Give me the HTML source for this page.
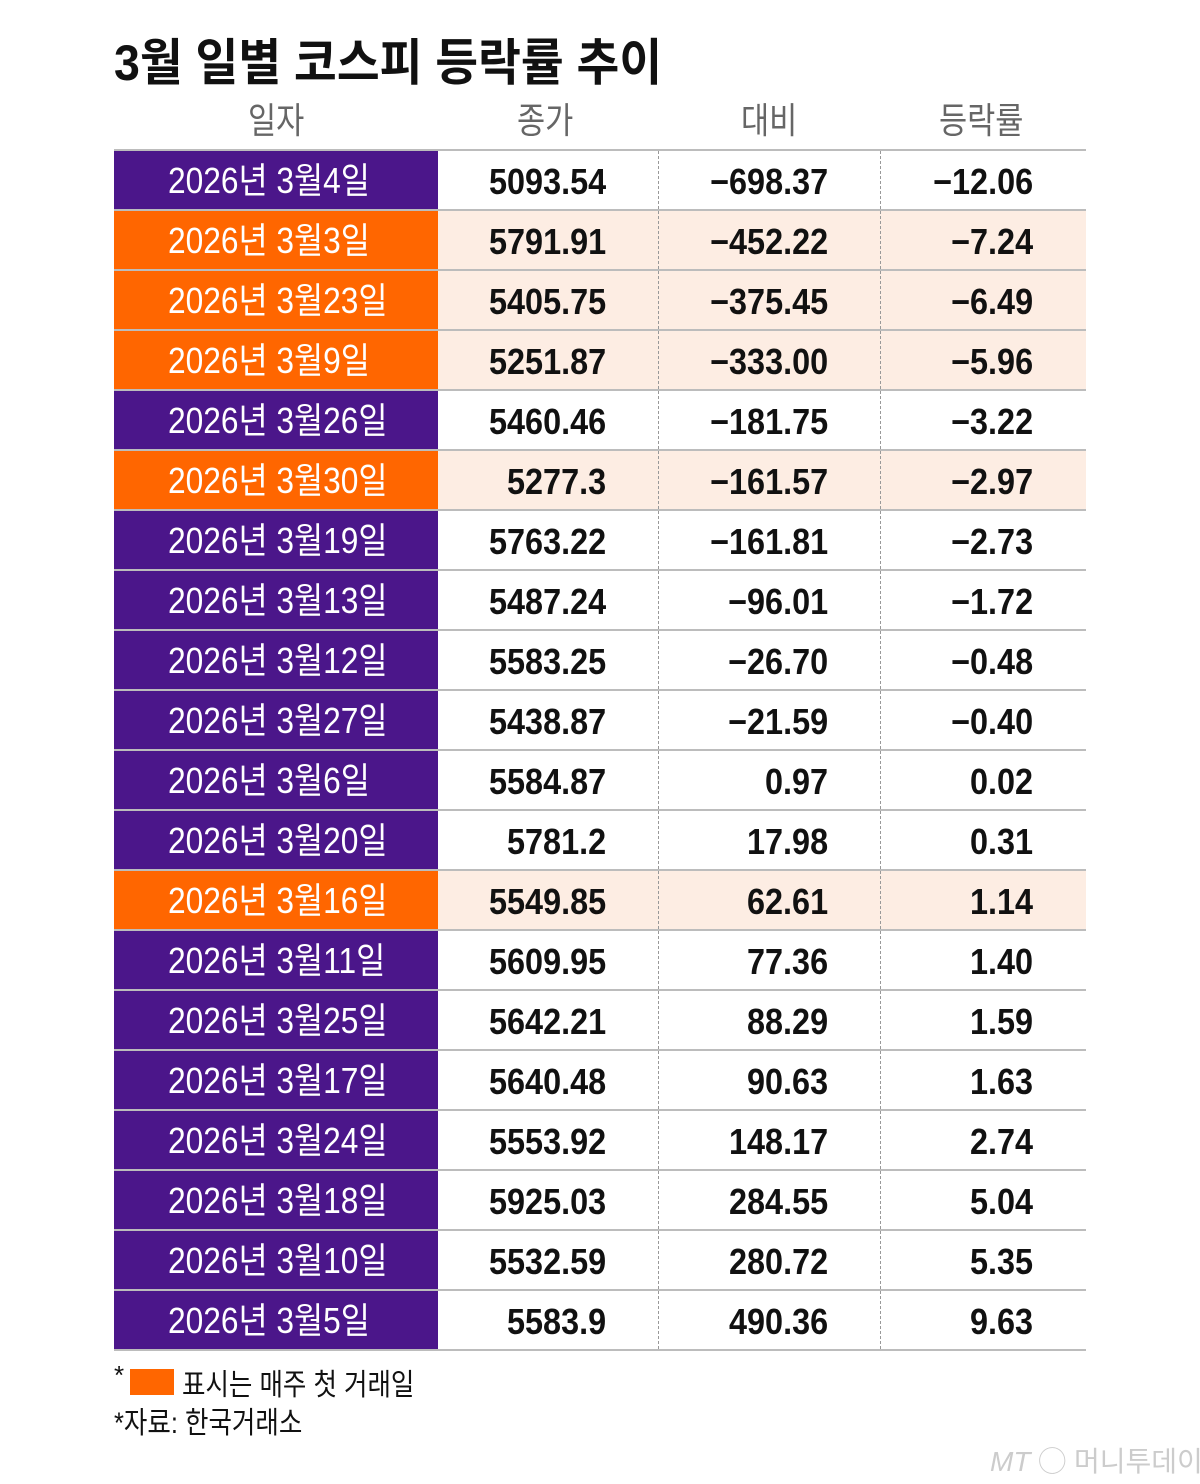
<!DOCTYPE html>
<html><head><meta charset="utf-8"><style>
body{margin:0;background:#fff;width:1200px;height:1484px;position:relative;overflow:hidden;font-family:"Liberation Sans","Noto Sans CJK KR",sans-serif}
.a{position:absolute;white-space:nowrap}
.t{left:114px;top:23px;font-size:50px;font-weight:bold;color:#111;transform:scaleX(0.93);transform-origin:left}
.h{top:92px;font-size:36px;color:#666;transform:scaleX(0.85);transform-origin:left}
.row{position:absolute;left:114px;width:972px;height:60px;border-top:2px solid #bcbcbc;box-sizing:border-box}
.d{position:absolute;left:0;top:0;width:324px;height:60px;color:#fff;font-size:36px;line-height:60px;text-align:left}
.d span{display:inline-block;margin-left:54px;transform:scaleX(0.88);transform-origin:left}
.n{position:absolute;top:1px;line-height:60px;font-size:36px;font-weight:bold;color:#111;text-align:right;transform:scaleX(0.9);transform-origin:right}
.v1{position:absolute;left:544px;top:0;height:58px;border-left:1px dashed #999}
.v2{position:absolute;left:766px;top:0;height:58px;border-left:1px dashed #999}
</style></head><body>
<div class="a t">3월 일별 코스피 등락률 추이</div>
<div class="a h" style="left:248px">일자</div>
<div class="a h" style="left:517px">종가</div>
<div class="a h" style="left:741px">대비</div>
<div class="a h" style="left:939px">등락률</div>
<div id="tb"></div>
<div style="position:absolute;left:114px;top:1349px;width:972px;border-top:2px solid #bcbcbc"></div>
<div class="a" style="left:114px;top:1360px;font-size:26px;color:#111">*</div>
<div class="a" style="left:130px;top:1369px;width:44px;height:26px;background:#ff6600"></div>
<div class="a" style="left:182px;top:1360px;font-size:30px;color:#111;transform:scaleX(0.85);transform-origin:left">표시는 매주 첫 거래일</div>
<div class="a" style="left:114px;top:1398px;font-size:30px;color:#111;transform:scaleX(0.85);transform-origin:left">*자료: 한국거래소</div>
<div class="a" style="left:990px;top:1440px;font-size:28px;color:#ccc;font-style:italic">MT<span style="font-style:normal"> ◯ 머니투데이</span></div>
<script>
var R=[["3월4일","5093.54","−698.37","−12.06",0],["3월3일","5791.91","−452.22","−7.24",1],["3월23일","5405.75","−375.45","−6.49",1],["3월9일","5251.87","−333.00","−5.96",1],["3월26일","5460.46","−181.75","−3.22",0],["3월30일","5277.3","−161.57","−2.97",1],["3월19일","5763.22","−161.81","−2.73",0],["3월13일","5487.24","−96.01","−1.72",0],["3월12일","5583.25","−26.70","−0.48",0],["3월27일","5438.87","−21.59","−0.40",0],["3월6일","5584.87","0.97","0.02",0],["3월20일","5781.2","17.98","0.31",0],["3월16일","5549.85","62.61","1.14",1],["3월11일","5609.95","77.36","1.40",0],["3월25일","5642.21","88.29","1.59",0],["3월17일","5640.48","90.63","1.63",0],["3월24일","5553.92","148.17","2.74",0],["3월18일","5925.03","284.55","5.04",0],["3월10일","5532.59","280.72","5.35",0],["3월5일","5583.9","490.36","9.63",0]];
var h="";R.forEach(function(r,i){var o=r[4];
h+='<div class="row" style="top:'+(149+60*i)+'px;background:'+(o?'#fdede3':'#fff')+'"><div class="d" style="background:'+(o?'#ff6600':'#4b168a')+'"><span>2026년 '+r[0]+'</span></div>'+
'<div class="n" style="right:480px">'+r[1]+'</div><div class="n" style="right:258px">'+r[2]+'</div><div class="n" style="right:53px">'+r[3]+'</div><div class="v1"></div><div class="v2"></div></div>';});
document.getElementById("tb").innerHTML=h;
</script>
</body></html>
